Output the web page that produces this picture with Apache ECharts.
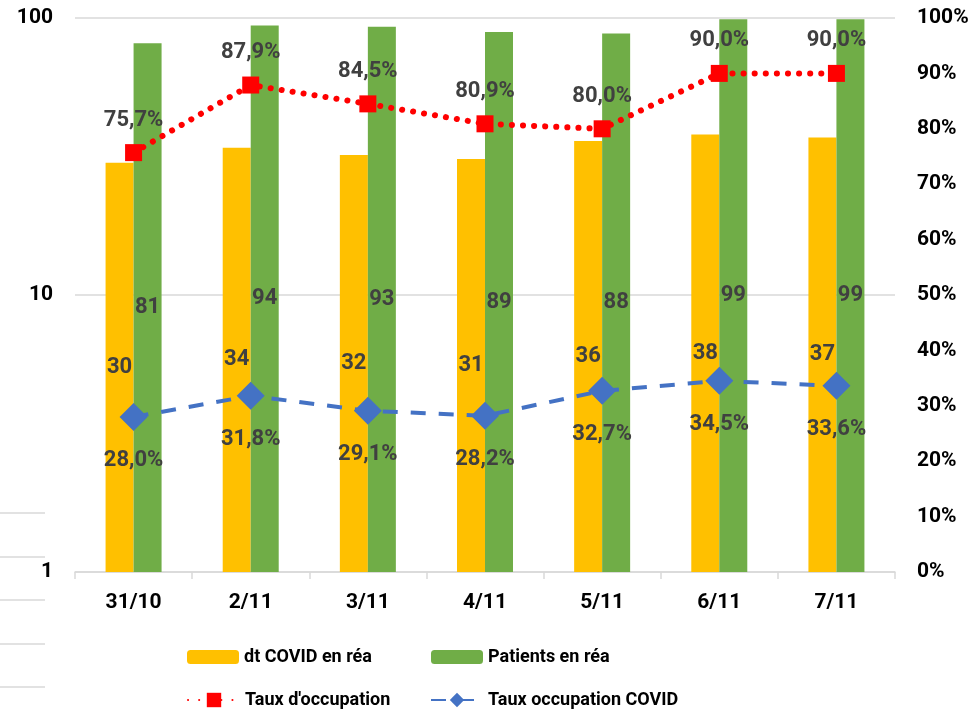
<!DOCTYPE html>
<html><head><meta charset="utf-8">
<script src="https://cdn.jsdelivr.net/npm/echarts@6/dist/echarts.min.js"></script>
<style>html,body{margin:0;padding:0;background:#fff}#c{width:976px;height:714px}</style>
</head><body><div id="c"></div>
<script>
const categories = ['31/10','2/11','3/11','4/11','5/11','6/11','7/11'];
const dtCovid = [30,34,32,31,36,38,37];
const patients = [81,94,93,89,88,99,99];
const tauxOcc = [75.7,87.9,84.5,80.9,80.0,90.0,90.0];
const tauxCovid = [28.0,31.8,29.1,28.2,32.7,34.5,33.6];
const leftTicks = [1,10,100];

const FONT = 'Roboto';
const pct = v => v.toFixed(1).replace('.', ',') + '%';
const chart = echarts.init(document.getElementById('c'));
const legendBase = {orient:'horizontal', itemWidth:52, itemHeight:14, itemGap:6,
  textStyle:{fontFamily:FONT, fontWeight:'bold', fontSize:18, color:'#000'}};
const strayY = [513,557,600,644,687];
const axisFont = {fontFamily:FONT, fontWeight:'bold', fontSize:21, color:'#000'};
const dataFont = {fontFamily:FONT, fontWeight:'bold', fontSize:22, color:'#404040'};
chart.setOption({
  animation:false,
  textStyle:{fontFamily:FONT},
  grid:{left:75, right:81, top:18, bottom:142},
  graphic: strayY.map(y => ({type:'line', shape:{x1:0,y1:y,x2:45,y2:y}, style:{stroke:'#d9d9d9', lineWidth:1.5}})),
  legend:[
    Object.assign({}, legendBase, {left:182, top:643, data:['dt COVID en réa']}),
    Object.assign({}, legendBase, {left:426, top:643, data:['Patients en réa']}),
    Object.assign({}, legendBase, {left:182, top:686, itemHeight:18, data:["Taux d'occupation"]}),
    Object.assign({}, legendBase, {left:425, top:686, itemHeight:18, data:['Taux occupation COVID']})
  ],
  xAxis:{type:'category', data:categories,
    axisLine:{lineStyle:{color:'#d9d9d9', width:1.5}},
    axisTick:{show:true, length:7, lineStyle:{color:'#d9d9d9', width:1.5}},
    axisLabel:Object.assign({margin:20}, axisFont)},
  yAxis:[
    {type:'log', logBase:10, min:leftTicks[0], max:leftTicks[leftTicks.length-1],
     axisLine:{show:false}, axisTick:{show:false},
     splitLine:{lineStyle:{color:'#d9d9d9', width:1.5}},
     axisLabel:Object.assign({margin:22}, axisFont)},
    {type:'value', min:0, max:100, interval:10, position:'right',
     axisLine:{show:false}, axisTick:{show:false}, splitLine:{show:false},
     axisLabel:Object.assign({margin:22, formatter:'{value}%'}, axisFont)}
  ],
  series:[
    {name:'dt COVID en réa', type:'bar', data:dtCovid, barWidth:28, barGap:'0%',
     itemStyle:{color:'#FFC000'},
     label:Object.assign({show:true, position:'inside'}, dataFont)},
    {name:'Patients en réa', type:'bar', data:patients, barWidth:28,
     itemStyle:{color:'#70AD47'},
     label:Object.assign({show:true, position:'inside'}, dataFont)},
    {name:"Taux d'occupation", type:'line', yAxisIndex:1, data:tauxOcc,
     symbol:'rect', symbolSize:17, itemStyle:{color:'#FF0000'},
     lineStyle:{color:'#FF0000', width:6, type:[0.1,11], cap:'round'},
     label:Object.assign({show:true, position:'top', distance:13, formatter:p=>pct(p.value)}, dataFont)},
    {name:'Taux occupation COVID', type:'line', yAxisIndex:1, data:tauxCovid,
     symbol:'diamond', symbolSize:[28,28], itemStyle:{color:'#4472C4'},
     lineStyle:{color:'#4472C4', width:4, type:[15,13]},
     label:Object.assign({show:true, position:'bottom', distance:19, formatter:p=>pct(p.value)}, dataFont)}
  ]
});
</script></body></html>
